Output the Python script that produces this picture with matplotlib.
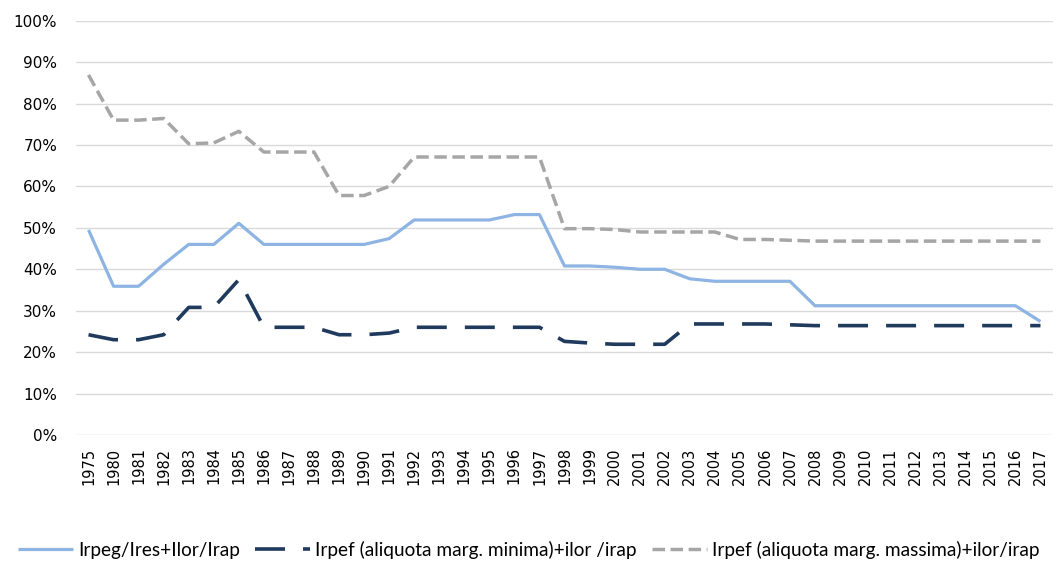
import matplotlib
matplotlib.use("Agg")
import matplotlib.pyplot as plt
from matplotlib.ticker import FuncFormatter, MultipleLocator

# anni: 1975 poi 1980-2017
YEARS = ['1975'] + [str(y) for y in range(1980, 2018)]

# Irpeg/Ires+Ilor/Irap
IRPEG = [49.5, 35.9, 35.9, 41.2, 46.0, 46.0, 51.1, 46.0, 46.0, 46.0,
         46.0, 46.0, 47.4, 51.9, 51.9, 51.9, 51.9, 53.2, 53.2, 40.8,
         40.8, 40.5, 40.0, 40.0, 37.7, 37.1, 37.1, 37.1, 37.1, 31.2,
         31.2, 31.2, 31.2, 31.2, 31.2, 31.2, 31.2, 31.2, 27.4]

# Irpef (aliquota marg. minima)+ilor /irap
IRPEF_MIN = [24.2, 23.0, 23.0, 24.2, 30.8, 30.8, 37.5, 26.0, 26.0, 26.0,
             24.2, 24.2, 24.6, 26.0, 26.0, 26.0, 26.0, 26.0, 26.0, 22.6,
             22.2, 21.9, 21.9, 21.9, 26.8, 26.8, 26.8, 26.8, 26.6, 26.4,
             26.4, 26.4, 26.4, 26.4, 26.4, 26.4, 26.4, 26.4, 26.4]

# Irpef (aliquota marg. massima)+ilor/irap
IRPEF_MAX = [86.9, 76.0, 76.0, 76.4, 70.3, 70.5, 73.3, 68.3, 68.3, 68.3,
             57.8, 57.8, 60.0, 67.1, 67.1, 67.1, 67.1, 67.1, 67.1, 49.8,
             49.8, 49.6, 49.0, 49.0, 49.0, 49.0, 47.2, 47.2, 47.0, 46.8,
             46.8, 46.8, 46.8, 46.8, 46.8, 46.8, 46.8, 46.8, 46.8]

LABELS = ('Irpeg/Ires+Ilor/Irap',
          'Irpef (aliquota marg. minima)+ilor /irap',
          'Irpef (aliquota marg. massima)+ilor/irap')

plt.rcParams['font.family'] = ['DejaVu Sans']

fig = plt.figure(figsize=(10.57, 5.61), dpi=100, facecolor='w')
ax = fig.add_axes([76 / 1057, 1 - 435 / 561, 977 / 1057, (435 - 20.7) / 561])

x = range(len(YEARS))
ax.plot(x, [v / 100 for v in IRPEG], color='#8DB4E2', linewidth=2.3,
        solid_capstyle='butt', label=LABELS[0])
ax.plot(x, [v / 100 for v in IRPEF_MIN], color='#1F3A5C', linewidth=2.6,
        dashes=(8.3, 5.0), dash_capstyle='butt', label=LABELS[1])
ax.plot(x, [v / 100 for v in IRPEF_MAX], color='#A6A6A6', linewidth=2.5,
        dashes=(3.6, 1.6), dash_capstyle='butt', label=LABELS[2])

ax.set_xlim(-0.5, len(YEARS) - 0.5)
ax.set_ylim(0, 1.0)
ax.yaxis.set_major_locator(MultipleLocator(0.1))
ax.yaxis.set_major_formatter(FuncFormatter(lambda v, p: '%d%%' % round(v * 100)))
ax.set_xticks(list(x))
ax.set_xticklabels(YEARS, rotation=90, fontsize=10.5, color='#000000')

ax.grid(axis='y', color='#D9D9D9', linewidth=1.0)
ax.set_axisbelow(True)
for s in ax.spines.values():               # niente cornice, solo griglia
    s.set_visible(False)
ax.tick_params(axis='y', length=0, pad=13.5, labelsize=11, labelcolor='#000000')
ax.tick_params(axis='x', length=0, pad=9)

leg = fig.legend(loc='center', bbox_to_anchor=(0.5, 1 - 550 / 561), ncol=3,
                 frameon=False, handlelength=2.9, handletextpad=0.26,
                 columnspacing=0.79, borderpad=0.2,
                 prop={'family': ['Lato', 'DejaVu Sans'], 'size': 13.7})

fig.savefig('out.png', dpi=100)
plt.close()
